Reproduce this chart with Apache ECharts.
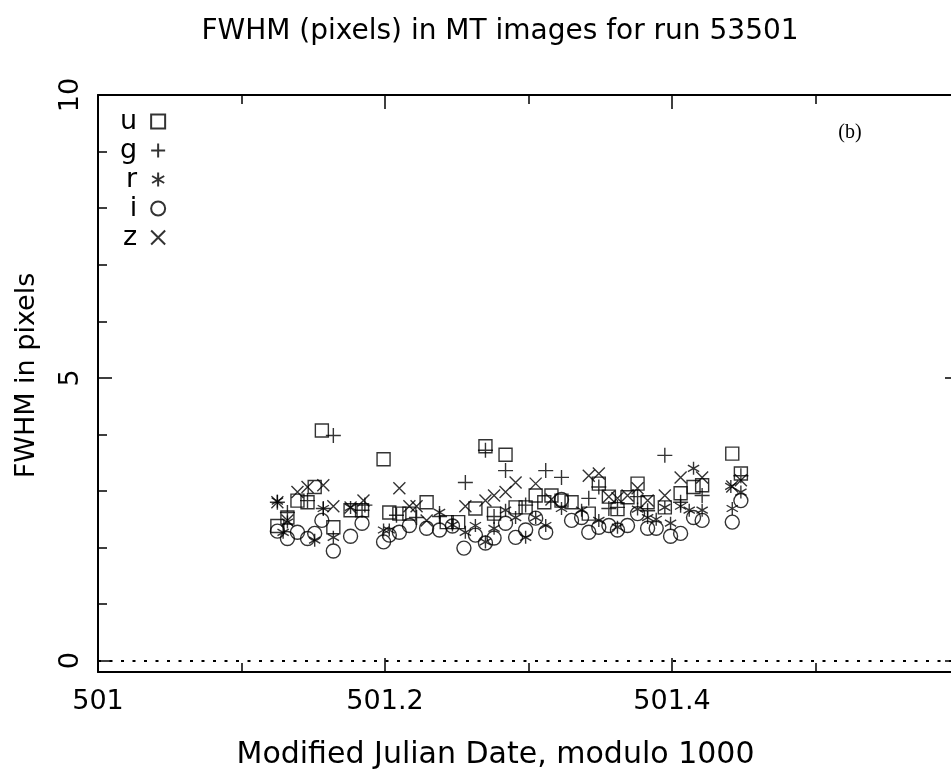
<!DOCTYPE html>
<html>
<head>
<meta charset="utf-8">
<script src="https://cdn.jsdelivr.net/npm/echarts@6/dist/echarts.min.js"></script>
<style>
html,body{margin:0;padding:0;background:#fff;}
#chart{width:951px;height:779px;}
</style>
</head>
<body>
<div id="chart"></div>
<script>
// ---- data (MJD modulo 1000, FWHM in pixels) ----
const seriesNames = ['u', 'g', 'r', 'i', 'z'];
const xTickLabels = [501, 501.2, 501.4];
const yTickLabels = [0, 5, 10];
const yMinorTicks = [1, 2, 3, 4, 6, 7, 8, 9];

const uData = [
  [501.125,2.38],[501.132,2.53],[501.139,2.83],[501.146,2.80],[501.151,3.07],[501.156,4.07],
  [501.164,2.36],[501.176,2.66],[501.184,2.66],[501.199,3.56],[501.203,2.62],[501.210,2.60],
  [501.217,2.60],[501.229,2.80],[501.243,2.45],[501.251,2.45],[501.263,2.69],[501.270,3.79],
  [501.276,2.60],[501.284,3.64],[501.291,2.71],[501.298,2.71],[501.305,2.92],[501.311,2.80],
  [501.316,2.92],[501.323,2.83],[501.330,2.80],[501.342,2.60],[501.349,3.13],[501.356,2.90],
  [501.362,2.68],[501.369,2.89],[501.376,3.13],[501.383,2.80],[501.395,2.71],[501.406,2.96],
  [501.415,3.07],[501.421,3.10],[501.442,3.66],[501.448,3.31]
];
const gData = [
  [501.125,2.80],[501.132,2.62],[501.146,2.83],[501.157,2.69],[501.164,3.98],[501.184,2.66],
  [501.186,2.75],[501.208,2.57],[501.222,2.53],[501.238,2.55],[501.256,3.15],[501.270,3.72],
  [501.276,2.55],[501.284,3.36],[501.298,2.75],[501.312,3.36],[501.323,3.24],[501.342,2.87],
  [501.349,3.07],[501.356,2.69],[501.362,2.71],[501.376,2.90],[501.383,2.65],[501.395,3.63],
  [501.406,2.80],[501.421,2.92],[501.448,3.27]
];
const rData = [
  [501.125,2.82],[501.129,2.27],[501.132,2.45],[501.151,2.13],[501.157,2.69],[501.164,2.18],
  [501.176,2.71],[501.199,2.31],[501.203,2.31],[501.238,2.62],[501.247,2.40],[501.256,2.27],
  [501.263,2.39],[501.270,2.10],[501.276,2.34],[501.284,2.66],[501.291,2.53],[501.298,2.18],
  [501.305,2.53],[501.312,2.39],[501.323,2.69],[501.337,2.66],[501.349,2.48],[501.362,2.36],
  [501.376,2.68],[501.383,2.53],[501.389,2.50],[501.395,2.71],[501.399,2.43],[501.406,2.73],
  [501.412,2.66],[501.415,3.40],[501.421,2.66],[501.441,3.08],[501.442,2.69],[501.448,2.98]
];
const iData = [
  [501.125,2.29],[501.132,2.16],[501.139,2.27],[501.146,2.16],[501.151,2.25],[501.156,2.48],
  [501.164,1.94],[501.176,2.20],[501.184,2.43],[501.199,2.10],[501.203,2.22],[501.210,2.27],
  [501.217,2.39],[501.229,2.34],[501.238,2.31],[501.247,2.38],[501.255,1.99],[501.263,2.22],
  [501.270,2.08],[501.276,2.17],[501.284,2.43],[501.291,2.18],[501.298,2.31],[501.305,2.52],
  [501.312,2.27],[501.323,2.85],[501.330,2.48],[501.337,2.53],[501.342,2.27],[501.349,2.36],
  [501.356,2.39],[501.362,2.31],[501.369,2.39],[501.376,2.60],[501.383,2.34],[501.389,2.34],
  [501.399,2.20],[501.406,2.25],[501.415,2.53],[501.421,2.48],[501.442,2.45],[501.448,2.83]
];
const zData = [
  [501.125,2.80],[501.132,2.48],[501.139,2.98],[501.146,3.07],[501.157,3.10],[501.164,2.73],
  [501.176,2.71],[501.185,2.83],[501.210,3.05],[501.217,2.73],[501.222,2.73],[501.229,2.48],
  [501.256,2.73],[501.270,2.83],[501.276,2.92],[501.284,2.98],[501.291,3.15],[501.305,3.13],
  [501.316,2.85],[501.342,3.27],[501.349,3.31],[501.356,2.90],[501.362,2.87],[501.369,2.92],
  [501.376,3.05],[501.383,2.83],[501.395,2.92],[501.406,3.24],[501.421,3.24],[501.442,3.08],
  [501.448,3.19]
];
const allData = [uData, gData, rData, iData, zData];

// ---- styling ----
const FONT = 'DejaVu Sans';
const symbols = [
  'rect',
  'path://M5,0L5,10M0,5L10,5',
  'path://M5,0L5,10M0.67,2.5L9.33,7.5M9.33,2.5L0.67,7.5',
  'circle',
  'path://M0,0L10,10M10,0L0,10'
];
const symbolSizes = [13, 15, 13, 14, 12];
const markStyle = {color: 'transparent', borderColor: '#000', borderWidth: 1.4};

const chart = echarts.init(document.getElementById('chart'), null, {renderer: 'canvas'});

const fmt = v => String(Number(v.toFixed(1)));
const lineS = {color: '#000', width: 2};
const tickS = {color: '#000', width: 1.5};

function xAxisDef(pos, withLabels) {
  return {
    type: 'value', position: pos, min: 501, max: 501.6, interval: 0.2,
    axisLine: {show: true, onZero: false, lineStyle: lineS},
    axisTick: {show: true, inside: true, length: 14, lineStyle: tickS},
    minorTick: {show: true, splitNumber: 2, length: 9, lineStyle: tickS},
    splitLine: {show: false}, minorSplitLine: {show: false},
    axisLabel: withLabels ? {
      show: true, customValues: xTickLabels, formatter: fmt, margin: 16,
      fontSize: 27, fontFamily: FONT, color: '#000'
    } : {show: false},
    name: withLabels ? 'Modified Julian Date, modulo 1000' : '',
    nameLocation: 'middle', nameGap: 68,
    nameTextStyle: {fontSize: 30, fontFamily: FONT, color: '#000', padding: [0, 66, 0, 0]}
  };
}
function yAxisDef(pos, major, withLabels) {
  return {
    type: 'value', position: pos, min: -0.2, max: 10,
    axisLine: {show: major, onZero: false, lineStyle: lineS},
    axisTick: {show: true, inside: true, length: major ? 14 : 9,
               customValues: major ? yTickLabels : yMinorTicks, lineStyle: tickS},
    splitLine: {show: false},
    axisLabel: withLabels ? {
      show: true, customValues: yTickLabels, rotate: 90, margin: 14,
      fontSize: 27, fontFamily: FONT, color: '#000'
    } : {show: false},
    name: withLabels ? 'FWHM in pixels' : '',
    nameLocation: 'middle', nameGap: 58,
    nameTextStyle: {fontSize: 27, fontFamily: FONT, color: '#000', padding: [0, 0, 0, 16]}
  };
}

const series = seriesNames.map((n, k) => ({
  name: n, type: 'scatter', xAxisIndex: 0, yAxisIndex: 0,
  symbol: symbols[k], symbolSize: symbolSizes[k], symbolKeepAspect: true,
  itemStyle: markStyle, silent: true, animation: false,
  emphasis: {disabled: true},
  data: allData[k]
}));
series[0].markLine = {
  silent: true, symbol: 'none', animation: false,
  label: {show: false},
  lineStyle: {color: '#000', width: 2, type: [3, 8.5]},
  data: [{yAxis: 0}]
};

chart.setOption({
  animation: false,
  backgroundColor: '#fff',
  textStyle: {fontFamily: FONT},
  grid: {left: 98, top: 95, width: 861, height: 577, containLabel: false, outerBoundsMode: 'none'},
  xAxis: [xAxisDef('bottom', true), xAxisDef('top', false)],
  yAxis: [yAxisDef('left', true, true), yAxisDef('left', false, false),
          yAxisDef('right', true, false)],
  legend: {
    orient: 'vertical', left: 115, top: 102, align: 'right',
    itemGap: 0, itemWidth: 14, itemHeight: 14, selectedMode: false,
    textStyle: {fontSize: 27, lineHeight: 29, fontFamily: FONT, color: '#000', padding: [0, 9, 0, 0]},
    data: seriesNames
  },
  graphic: [
    {type: 'text', x: 500, y: 32, silent: true,
     style: {text: 'FWHM (pixels) in MT images for run 53501', textAlign: 'center', textVerticalAlign: 'middle',
             font: '28px "DejaVu Sans"', fill: '#000'}},
    {type: 'text', x: 850, y: 133, silent: true,
     style: {text: '(b)', textAlign: 'center', textVerticalAlign: 'middle',
             font: '20px "Liberation Serif"', fill: '#000'}}
  ],
  series: series
});
</script>
</body>
</html>
